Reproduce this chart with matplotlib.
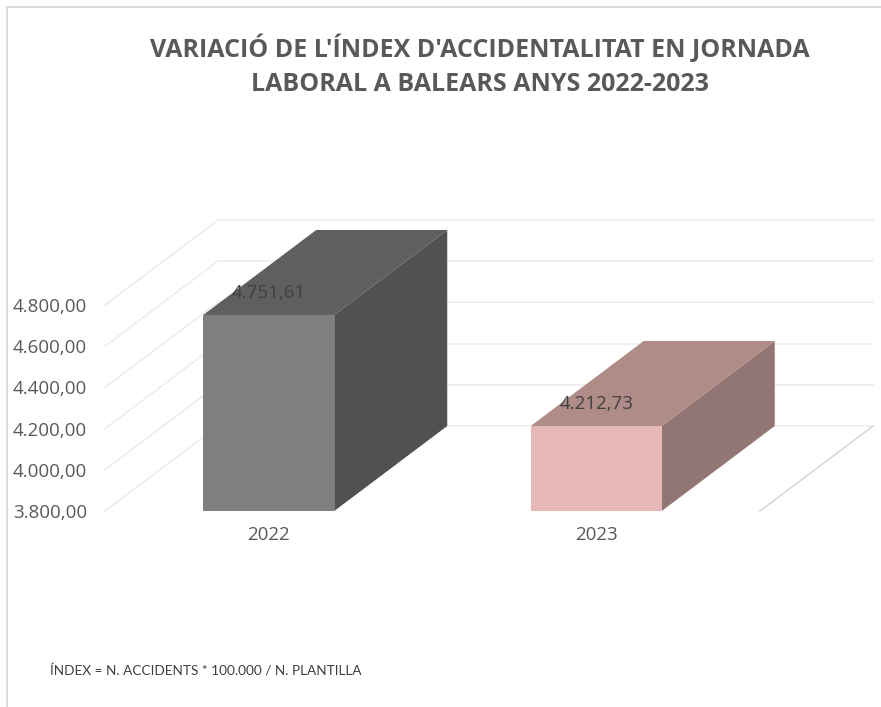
import matplotlib.pyplot as plt
from matplotlib.patches import Polygon
from matplotlib.lines import Line2D

years = ['2022', '2023']
values = [4751.61, 4212.73]
ticks = [3800, 4000, 4200, 4400, 4600, 4800]
value_labels = ['4.751,61', '4.212,73']

front_cols = ['#7f7f7f', '#e6b9b8']
top_cols = ['#5f5f5f', '#af8c88']
side_cols = ['#515151', '#927674']

W, H = 881, 707
fig = plt.figure(figsize=(W / 100, H / 100), dpi=100)
fig.patch.set_facecolor('white')

# front plane of the 3d box, in pixels
px0, px1, pybot, pytop = 105, 760, 511, 305
ax = fig.add_axes([px0 / W, 1 - pybot / H, (px1 - px0) / W, (pybot - pytop) / H])
ax.set_xlim(0, 2)
ax.set_ylim(3800, 4800)

# depth of the 3d effect, in data units
dx = 113 / ((px1 - px0) / 2)
dy = 85 / ((pybot - pytop) / 1000)

grid = '#ededed'
for v in ticks:
    ax.plot([0, dx], [v, v + dy], color=grid, lw=1.2, clip_on=False, zorder=1)
    ax.plot([dx, 2 + dx], [v + dy, v + dy], color=grid, lw=1.2, clip_on=False, zorder=1)
ax.plot([2, 2 + dx], [3800, 3800 + dy], color='#d9d9d9', lw=1.2, clip_on=False, zorder=1)

base = ticks[0]
for i, val in enumerate(values):
    xl, xr = i + 0.3, i + 0.7
    front = [(xl, base), (xr, base), (xr, val), (xl, val)]
    top = [(xl, val), (xr, val), (xr + dx, val + dy), (xl + dx, val + dy)]
    side = [(xr, base), (xr + dx, base + dy), (xr + dx, val + dy), (xr, val)]
    for pts, c in [(side, side_cols[i]), (top, top_cols[i]), (front, front_cols[i])]:
        ax.add_patch(Polygon(pts, closed=True, facecolor=c, edgecolor='none',
                             clip_on=False, zorder=3))
    ax.annotate(value_labels[i], (i + 0.5, val), xytext=(0, 16), textcoords='offset points',
                ha='center', va='center', fontsize=13.5, color='#404040',
                family='Open Sans', zorder=5, annotation_clip=False)

ax.set_yticks(ticks)
ax.set_yticklabels([f'{t:,.2f}'.replace(',', ' ').replace('.', ',').replace(' ', '.') for t in ticks])
ax.set_xticks([0.5, 1.5])
ax.set_xticklabels(years)
ax.tick_params(axis='y', length=0, pad=13, labelsize=13.5, labelcolor='#595959')
ax.tick_params(axis='x', length=0, pad=11, labelsize=13.5, labelcolor='#595959')
for lab in ax.get_xticklabels() + ax.get_yticklabels():
    lab.set_family('Open Sans')
for s in ax.spines.values():
    s.set_visible(False)
ax.patch.set_visible(False)

fig.text(480 / W, 1 - 66 / H,
         "VARIACIÓ DE L'ÍNDEX D'ACCIDENTALITAT EN JORNADA\nLABORAL A BALEARS ANYS 2022-2023",
         ha='center', va='center', fontsize=18, fontweight='bold', color='#595959',
         family='Open Sans', linespacing=1.45)

fig.text(50 / W, 1 - 671 / H, 'ÍNDEX = N. ACCIDENTS * 100.000 / N. PLANTILLA',
         ha='left', va='center', fontsize=9.8, color='#404040', family='Lato')

# chart border
fig.add_artist(Line2D([7 / W, 7 / W], [0, 1 - 7 / H], color='#d9d9d9', lw=1.3))
fig.add_artist(Line2D([7 / W, 1], [1 - 7 / H, 1 - 7 / H], color='#d9d9d9', lw=1.3))

fig.savefig('out.png', dpi=100, facecolor='white')
